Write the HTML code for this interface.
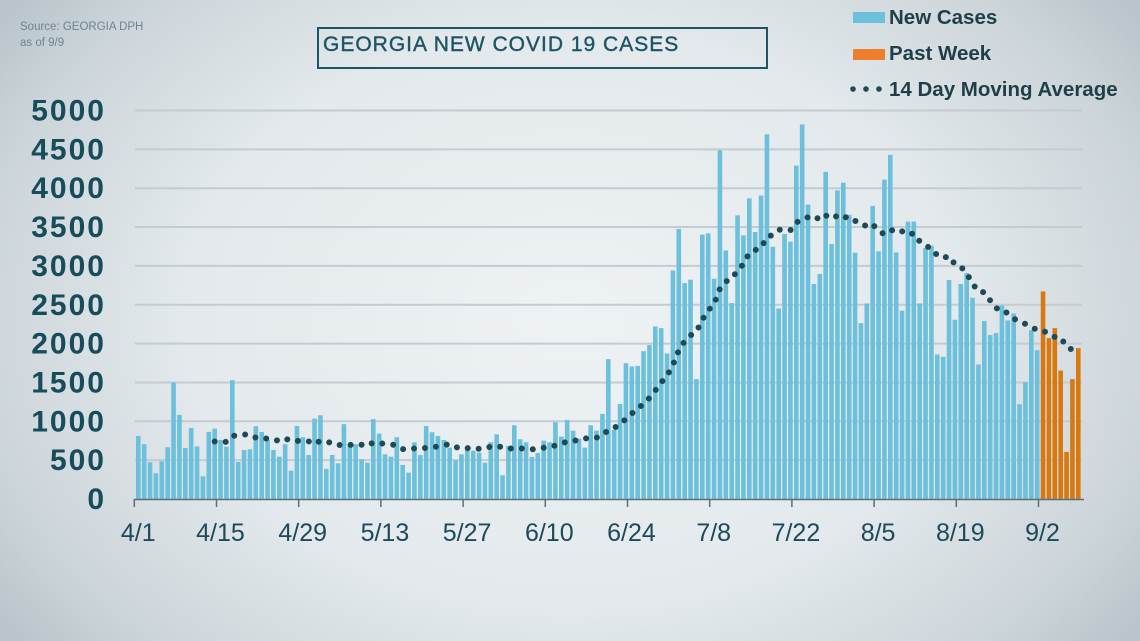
<!DOCTYPE html>
<html><head><meta charset="utf-8">
<style>
html,body{margin:0;padding:0;}
body{width:1140px;height:641px;overflow:hidden;position:relative;
background:radial-gradient(ellipse 700px 520px at 570px 320px,#eef2f4 0%,#e3e9ec 55%,#ccd5da 85%,#b9c5cb 100%);
font-family:"Liberation Sans",sans-serif;}
.src{position:absolute;left:20px;top:19px;font-size:11.5px;line-height:16px;color:#6f8490;}
.title{position:absolute;left:317px;top:27px;width:447px;height:38px;border:2px solid #1d5565;}
.title span{position:absolute;left:4px;top:4px;font-size:21px;color:#1d5565;letter-spacing:1px;-webkit-text-stroke:0.4px #1d5565;}
.leg{position:absolute;left:853px;font-size:20.5px;font-weight:bold;color:#1f3e48;}
.sw{position:absolute;left:853px;width:32px;height:11px;}
</style></head><body>
<div class="src">Source: GEORGIA DPH<br>as of 9/9</div>
<div class="title"><span>GEORGIA NEW COVID 19 CASES</span></div>
<div class="sw" style="top:12px;background:#6cc0dc"></div>
<div class="leg" style="left:889px;top:6px">New Cases</div>
<div class="sw" style="top:49px;background:#ee7d2c"></div>
<div class="leg" style="left:889px;top:42px">Past Week</div>
<div class="leg" style="left:889px;top:78px">14 Day Moving Average</div>
<svg style="position:absolute;left:0;top:0" width="1140" height="641">
<g fill="#1d4a55"><circle cx="853" cy="89" r="2.8"/><circle cx="866" cy="89" r="2.8"/><circle cx="879" cy="89" r="2.8"/></g>
<g id="g"></g>
</svg>
<script>
var d=[812,705,473,331,486,666,1499,1082,657,915,678,292,863,906,760,674,1529,477,631,640,937,863,760,631,545,705,365,940,795,567,1035,1078,387,567,460,963,700,705,512,468,1027,842,
575,545,795,438,339,730,567,940,859,812,760,661,498,575,653,622,597,468,730,833,305,683,949,769,730,541,593,751,730,988,803,1018,880,777,661,949,880,1095,1800,889,1224,1748,1705,1714,
1903,1981,2221,2199,1873,2942,3475,2779,2822,1543,3402,3419,2835,4488,3199,2522,3651,3393,3870,3436,3905,4694,3247,2452,3411,3312,4291,4820,3789,2767,2896,4210,3282,3972,4072,3656,3170,
2264,2517,3772,3187,4111,4429,3174,2423,3570,3570,2517,3230,3260,1860,1830,2818,2307,2767,2908,2590,1731,2290,2110,2135,2491,2298,2388,1220,1504,2174,1916,
2671,2071,2199,1653,606,1543,1942];
var Y=function(v){return 499-v*0.0777;};
var s='';
for(var k=0;k<=10;k++){var y=Y(k*500);
 if(k>0)s+='<line x1="135" x2="1082" y1="'+y+'" y2="'+y+'" stroke="#c3ccd1" stroke-width="2"/>';
 s+='<text x="106" y="'+(y+10)+'" text-anchor="end" font-size="30" font-weight="bold" letter-spacing="2" fill="#174c5b">'+(k*500)+'</text>';}
var step=5.875,x0=136;
for(var i=0;i<d.length;i++){var c=i>=d.length-7?'#d9780f':'#6cc0dc';
 s+='<rect x="'+(x0+i*step).toFixed(2)+'" y="'+Y(d[i]).toFixed(2)+'" width="4.6" height="'+(d[i]*0.0777).toFixed(2)+'" fill="'+c+'"/>';}
s+='<line x1="134" x2="1084" y1="499.5" y2="499.5" stroke="#5d6f78" stroke-width="1.5"/>';
var labs=['4/1','4/15','4/29','5/13','5/27','6/10','6/24','7/8','7/22','8/5','8/19','9/2'];
for(var j=0;j<labs.length;j++){var tx=134.3+j*82.2;
 s+='<line x1="'+tx+'" x2="'+tx+'" y1="499" y2="507" stroke="#5d6f78" stroke-width="1.5"/>';
 s+='<text x="'+(tx+4)+'" y="541" text-anchor="middle" font-size="25" fill="#1d4a5a">'+labs[j]+'</text>';}
var p='';
for(var i=13;i<d.length;i++){var sm=0;for(var q=i-13;q<=i;q++)sm+=d[q];
 p+=(i==13?'M':'L')+(x0+i*step+2.3).toFixed(2)+' '+Y(sm/14).toFixed(2)+' ';}
s+='<path d="'+p+'" fill="none" stroke="#1d4a55" stroke-width="6" stroke-linecap="round" stroke-dasharray="0 11"/>';
document.getElementById('g').innerHTML=s;
</script>
</body></html>
